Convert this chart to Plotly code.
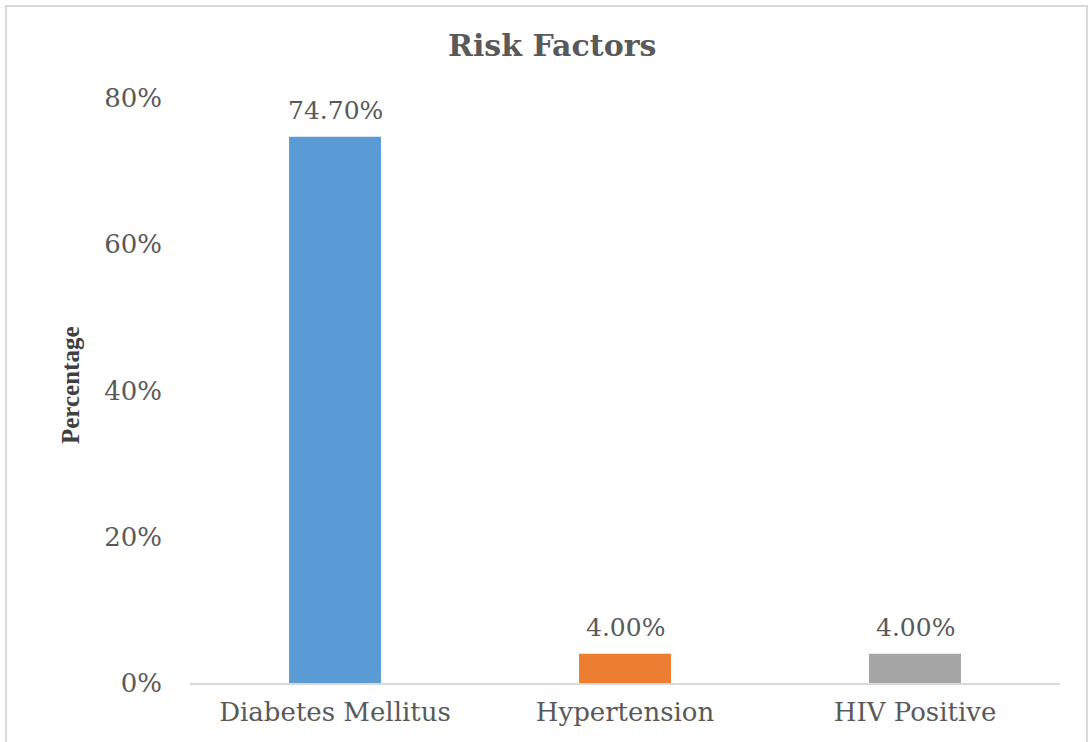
import plotly.graph_objects as go

# Risk factor shares among patients
categories = ["Diabetes Mellitus", "Hypertension", "HIV Positive"]
shares = [0.747, 0.040, 0.040]
bar_colors = ["#5B9BD5", "#ED7D31", "#A5A5A5"]
y_ticks = [0, 0.2, 0.4, 0.6, 0.8]

W, H = 1090, 742
ml, mr, mt, mb = 190, 30, 98, 59
pw, ph = W - ml - mr, H - mt - mb

def px_x(x):
    return (x - ml) / pw

def px_y(y):
    return (H - mb - y) / ph

wide_serif = "DejaVu Serif, Liberation Serif, serif"
narrow_serif = "Liberation Serif, Times New Roman, serif"
text_gray = "#595959"

fig = go.Figure(
    go.Bar(
        x=categories,
        y=shares,
        marker=dict(color=bar_colors, line=dict(width=0)),
        width=0.317,
        hoverinfo="x+y",
    )
)

# value labels sitting above each bar
value_labels = [
    dict(
        x=c, y=v, xref="x", yref="y",
        text=f"{v:.2%}",
        xanchor="center", yanchor="bottom",
        yshift=10,
        showarrow=False,
        font=dict(family=wide_serif, size=25, color=text_gray),
    )
    for c, v in zip(categories, shares)
]

fig.update_layout(
    width=W,
    height=H,
    margin=dict(l=ml, r=mr, t=mt, b=mb, pad=0),
    paper_bgcolor="white",
    plot_bgcolor="white",
    showlegend=False,
    font=dict(family=wide_serif, color=text_gray),
    xaxis=dict(
        showgrid=False,
        showline=True,
        linecolor="#D9D9D9",
        linewidth=2,
        ticks="",
        tickfont=dict(family=wide_serif, size=26, color=text_gray),
        ticklabelstandoff=5,
    ),
    yaxis=dict(
        range=[0, 0.8],
        tickvals=y_ticks,
        tickformat=".0%",
        showgrid=False,
        showline=False,
        zeroline=False,
        ticks="",
        tickfont=dict(family=wide_serif, size=26, color=text_gray),
        ticklabelstandoff=27,
    ),
    annotations=value_labels + [
        dict(
            text="<b>Risk Factors</b>",
            xref="paper", yref="paper",
            x=px_x(552), y=px_y(45),
            xanchor="center", yanchor="middle",
            showarrow=False,
            font=dict(family=wide_serif, size=30, color=text_gray),
        ),
        dict(
            text="<b>Percentage</b>",
            xref="paper", yref="paper",
            x=px_x(70), y=px_y(385),
            xanchor="center", yanchor="middle",
            textangle=-90,
            showarrow=False,
            font=dict(family=narrow_serif, size=25, color="#404040"),
        ),
    ],
    shapes=[
        dict(
            type="rect",
            xref="paper", yref="paper",
            x0=px_x(6), x1=px_x(1087),
            y0=px_y(760), y1=px_y(6),
            line=dict(color="#D9D9D9", width=2),
            fillcolor="rgba(0,0,0,0)",
            layer="below",
        )
    ],
)

fig.write_html("out.html")
